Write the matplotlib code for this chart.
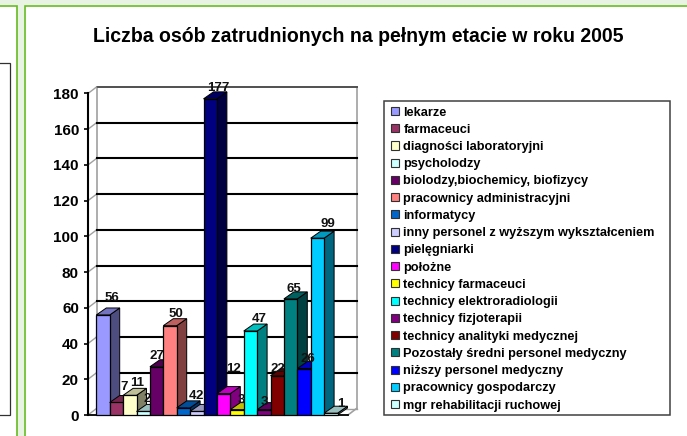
import matplotlib
matplotlib.use("Agg")
import matplotlib.pyplot as plt
from matplotlib.patches import Rectangle, Patch, Polygon
from matplotlib.colors import to_rgb

plt.rcParams["font.family"] = ["Liberation Sans", "DejaVu Sans"]
plt.rcParams["font.weight"] = "bold"

W = 687
H = 436

title = "Liczba osób zatrudnionych na pełnym etacie w roku 2005"
categories = ["lekarze", "farmaceuci", "diagności laboratoryjni", "psycholodzy",
              "biolodzy,biochemicy, biofizycy", "pracownicy administracyjni", "informatycy",
              "inny personel z wyższym wykształceniem", "pielęgniarki", "położne",
              "technicy farmaceuci", "technicy elektroradiologii", "technicy fizjoterapii",
              "technicy analityki medycznej", "Pozostały średni personel medyczny",
              "niższy personel medyczny", "pracownicy gospodarczy", "mgr rehabilitacji ruchowej"]
values = [56, 7, 11, 2, 27, 50, 4, 2, 177, 12, 3, 47, 3, 22, 65, 26, 99, 1]
colors = ["#9999FF", "#993366", "#FFFFCC", "#CCFFFF", "#660066", "#FF8080", "#0066CC", "#CCCCFF",
          "#000080", "#FF00FF", "#FFFF00", "#00FFFF", "#800080", "#800000", "#008080", "#0000FF",
          "#00CCFF", "#CCFFFF"]
y_ticks = [0, 20, 40, 60, 80, 100, 120, 140, 160, 180]

# label nudges in pixels (right, up from top of the bar front)
nudge_x = [9, 8, 7, 4, 0, 6, 9, 2, 8, 10, 4, 9, 1, 1, 3, 4, 10, 10]
nudge_y = [14, 12, 9, 9, 8, 9, 9, 12, 8, 22, 7, 9, 5, 4, 7, 7, 11, 6]

GREEN = "#66BB22"
PALE = "#E8F3E4"
GREY = "#A0A0A0"


def shade(c, f):
    r, g, b = to_rgb(c)
    return (r * f, g * f, b * f)


def box(x0, y0, x1, y1, **kw):
    # rectangle in picture pixels, y going down. zorder below the axes
    fig.add_artist(Rectangle((x0 / W, 1 - y1 / H), (x1 - x0) / W, (y1 - y0) / H,
                             transform=fig.transFigure, zorder=-1, **kw))


fig = plt.figure(figsize=(W / 100, H / 100), dpi=100, facecolor="white")

# page background behind the chart
box(0, 0, W, 5.5, facecolor=PALE, edgecolor="none")
box(17, 0, 24, H, facecolor=PALE, edgecolor="none")
box(-5, 5.5, 16.5, H + 5, facecolor="white", edgecolor=GREEN, linewidth=1.2)
box(24.5, 5.5, W + 5, H + 5, facecolor="white", edgecolor=GREEN, linewidth=1.2)
box(-5, 63.5, 9.5, 415, facecolor="white", edgecolor="#303030", linewidth=0.9)

# axes = the front plane of the 3D box
left, right, bottom, top = 88, 348, 415, 93.5
ax = fig.add_axes([left / W, 1 - bottom / H, (right - left) / W, (bottom - top) / H])
ax.patch.set_alpha(0)
pitch = 13.4
ax.set_xlim(-0.5 - (96.3 - left) / pitch, -0.5 + (right - 96.3) / pitch)
ax.set_ylim(0, 180)
per_px = 180 / (bottom - top)
x0, x1 = ax.get_xlim()

# back wall and floor
wdx = 8.5 / pitch
wdy = 6.5 * per_px
ax.plot([x0 + wdx, x0 + wdx], [wdy, 180 + wdy], color=GREY, lw=1.2, clip_on=False, zorder=1)
ax.plot([x1 + wdx, x1 + wdx], [wdy, 180 + wdy], color=GREY, lw=1.2, clip_on=False, zorder=1)
ax.plot([x0 + wdx, x1 + wdx], [180 + wdy, 180 + wdy], color="#505050", lw=1.4, clip_on=False, zorder=1)
ax.plot([x0 + wdx, x1 + wdx], [wdy, wdy], color=GREY, lw=1, clip_on=False, zorder=1)
ax.plot([x1, x1 + wdx], [0, wdy], color=GREY, lw=1.2, clip_on=False, zorder=1)
for t in y_ticks:
    ax.plot([x0, x0 + wdx], [t, t + wdy], color=GREY, lw=1, clip_on=False, zorder=1)
    if 0 < t < 180:
        ax.plot([x0 + wdx, x1 + wdx], [t + wdy, t + wdy], color="black", lw=1.5, clip_on=False, zorder=1.5)

# bars, left to right so each one covers the side of the one before
dx = 10 / pitch
dy = 7 * per_px
for i, v in enumerate(values):
    z = 3 + i * 0.1
    c = colors[i]
    ax.add_patch(Polygon([(i + 0.5, 0), (i + 0.5 + dx, dy), (i + 0.5 + dx, v + dy), (i + 0.5, v)],
                         facecolor=shade(c, 0.5), edgecolor="black", lw=0.7, zorder=z, clip_on=False))
    ax.add_patch(Polygon([(i - 0.5, v), (i + 0.5, v), (i + 0.5 + dx, v + dy), (i - 0.5 + dx, v + dy)],
                         facecolor=shade(c, 0.75), edgecolor="black", lw=0.7, zorder=z, clip_on=False))
    ax.bar(i, v, width=1, color=c, edgecolor="black", linewidth=0.9, zorder=z + 0.05, clip_on=False)

for i, v in enumerate(values):
    ax.annotate(str(v), (i, v), xytext=(nudge_x[i] * 0.72, nudge_y[i] * 0.72), textcoords="offset points",
                ha="center", va="baseline", fontsize=9.5, fontweight="bold", color="#111111",
                zorder=10, annotation_clip=False)

for s in ["top", "right"]:
    ax.spines[s].set_visible(False)
ax.spines["left"].set_linewidth(1.5)
ax.spines["bottom"].set_linewidth(1.3)
ax.spines["left"].set_zorder(2)
ax.set_xticks([])
ax.set_yticks(y_ticks)
ax.tick_params(axis="y", length=3, width=1.2, pad=3.5, labelsize=11)

fig.text(358.5 / W, 1 - 36.5 / H, title, ha="center", va="center", fontsize=14.05, fontweight="bold")

# legend frame and entries
box(384, 100.7, 670, 415, facecolor="white", edgecolor="#404040", linewidth=1.1)
handles = [Patch(facecolor=c, edgecolor="#303030", linewidth=0.8) for c in colors]
fig.legend(handles, categories, loc="upper left", bbox_to_anchor=(391 / W, 1 - 106.5 / H),
           frameon=False, borderpad=0, borderaxespad=0, handlelength=0.6,
           handleheight=0.6, handletextpad=0.37, labelspacing=0.41, prop={"weight": "bold", "size": 9.2})

fig.savefig("out.png", dpi=100)
